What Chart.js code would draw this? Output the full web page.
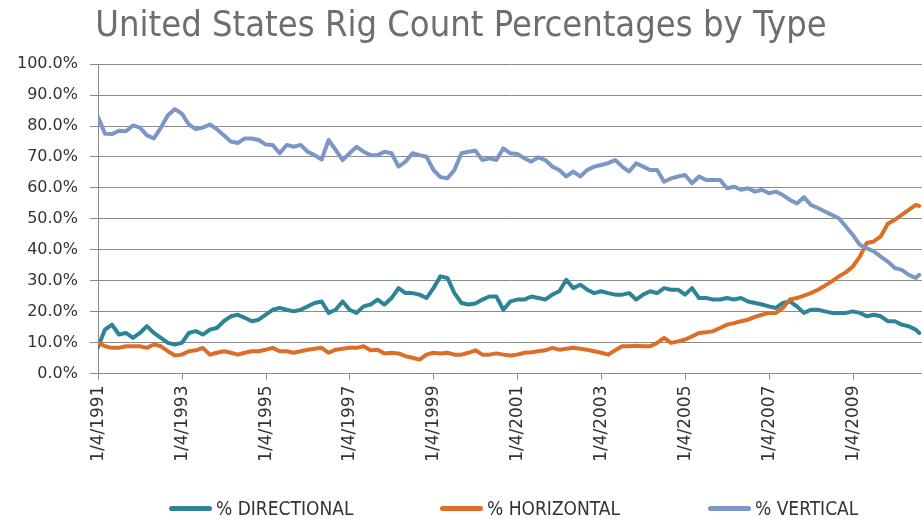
<!DOCTYPE html>
<html>
<head>
<meta charset="utf-8">
<title>United States Rig Count Percentages by Type</title>
<script src="https://cdn.jsdelivr.net/npm/chart.js@4.4.1/dist/chart.umd.min.js"></script>
<style>
  html, body { margin: 0; padding: 0; background: #fff; }
  #wrap { position: relative; width: 922px; height: 519px; }
  #legend { position: absolute; left: 0; top: 497px; width: 922px; height: 22px;
    font-family: 'Liberation Sans Narrow', 'DejaVu Sans Condensed', sans-serif; font-size: 19px; color: #333; }
  .item { position: absolute; top: 0; height: 22px; display: flex; align-items: center; white-space: nowrap; }
  .swatch { width: 43px; height: 5px; border-radius: 3px; margin-right: 4px; }
</style>
</head>
<body>
<div id="wrap">
  <canvas id="rigChart" width="922" height="519"></canvas>
  <div id="legend"></div>
</div>
<script>
// bi-monthly readings, Jan 1991 .. Jul 2010, plus the last week (Aug 2010)
const dates = [];
for (let y = 1991; y <= 2010; y++) {
  for (let m = 1; m <= 11; m += 2) {
    if (y < 2010 || m <= 7) dates.push(y + "-" + String(m).padStart(2, "0"));
  }
}
dates.push("2010-08");

const directional = [
  8.5, 14.2, 15.8, 12.6, 13.1, 11.5, 13.1, 15.3, 13.1, 11.5, 9.9, 9.4, 9.9, 13.1, 13.7, 12.6, 14.2, 14.7, 16.9, 18.5, 19.0, 18.0, 16.9, 17.4, 19.0,
  20.6, 21.2, 20.6, 20.1, 20.6, 21.7, 22.8, 23.3, 19.6, 20.6, 23.3, 20.6, 19.6, 21.7, 22.3, 23.9, 22.3, 24.4, 27.6, 26.0, 26.0, 25.5, 24.4, 27.6,
  31.4, 30.9, 26.0, 22.8, 22.3, 22.6, 23.9, 24.9, 24.9, 20.6, 23.3, 23.9, 23.9, 24.9, 24.4, 23.9, 25.5, 26.6, 30.3, 27.6, 28.7, 27.1, 26.0, 26.6,
  26.0, 25.5, 25.5, 26.0, 23.9, 25.5, 26.6, 26.0, 27.6, 27.1, 27.1, 25.5, 27.6, 24.4, 24.4, 23.9, 23.9, 24.4, 23.9, 24.4, 23.3, 22.8, 22.3, 21.7,
  21.2, 22.8, 23.3, 21.7, 19.6, 20.6, 20.6, 20.1, 19.6, 19.6, 19.6, 20.1, 19.6, 18.5, 19.0, 18.5, 16.9, 16.9, 15.8, 15.3, 14.2, 13.1
];
const horizontal = [
  9.9, 8.8, 8.3, 8.3, 8.8, 8.8, 8.8, 8.3, 9.4, 8.8, 7.2, 5.8, 6.1, 7.2, 7.5, 8.3, 6.1, 6.7, 7.2, 6.7, 6.1, 6.7, 7.2, 7.2, 7.7,
  8.3, 7.2, 7.2, 6.7, 7.2, 7.7, 8.0, 8.3, 6.7, 7.7, 8.0, 8.3, 8.3, 8.8, 7.5, 7.7, 6.5, 6.7, 6.5, 5.6, 5.1, 4.5, 6.1, 6.7,
  6.5, 6.7, 6.1, 6.1, 6.7, 7.5, 6.1, 6.1, 6.5, 6.1, 5.8, 6.1, 6.7, 6.9, 7.2, 7.5, 8.3, 7.7, 8.0, 8.3, 8.0, 7.7, 7.2, 6.7,
  6.1, 7.5, 8.8, 8.8, 9.0, 8.8, 8.8, 9.9, 11.5, 9.9, 10.4, 11.0, 12.0, 13.1, 13.3, 13.7, 14.7, 15.8, 16.3, 16.9, 17.4, 18.3, 19.0, 19.6,
  19.6, 21.2, 23.9, 24.4, 25.2, 26.0, 27.1, 28.4, 29.8, 31.4, 32.7, 34.6, 37.8, 42.2, 42.7, 44.3, 48.4, 49.7, 51.3, 52.9, 54.5, 54.2
];
const vertical = [
  83.0, 77.5, 77.4, 78.5, 78.3, 80.2, 79.5, 77.0, 76.0, 79.5, 83.5, 85.5, 84.0, 80.5, 79.0, 79.5, 80.5, 79.0, 77.0, 75.0, 74.5, 76.0, 76.0, 75.5, 74.0,
  73.9, 71.2, 73.9, 73.3, 73.9, 71.7, 70.6, 69.2, 75.5, 72.3, 69.0, 71.2, 73.3, 71.7, 70.6, 70.6, 71.7, 71.2, 66.9, 68.5, 71.2, 70.6, 70.1, 65.8,
  63.5, 63.1, 65.8, 71.2, 71.7, 72.0, 69.0, 69.6, 69.0, 72.8, 71.2, 71.0, 69.6, 68.5, 69.9, 69.0, 66.9, 65.8, 63.7, 65.3, 63.7, 65.8, 66.9, 67.4,
  68.0, 69.0, 66.9, 65.3, 68.0, 66.9, 65.8, 65.8, 62.0, 63.1, 63.7, 64.2, 61.5, 63.7, 62.6, 62.6, 62.6, 59.9, 60.4, 59.4, 59.9, 58.8, 59.4, 58.3,
  58.8, 57.7, 56.1, 55.0, 57.0, 54.5, 53.5, 52.4, 51.3, 50.2, 47.5, 44.8, 41.6, 40.5, 39.5, 37.8, 36.2, 34.1, 33.5, 31.9, 30.9, 31.9
];

const tickLabels = ["1/4/1991", "1/4/1993", "1/4/1995", "1/4/1997", "1/4/1999",
                    "1/4/2001", "1/4/2003", "1/4/2005", "1/4/2007", "1/4/2009"];

const seriesNames = ["% DIRECTIONAL", "% HORIZONTAL", "% VERTICAL"];
const seriesColors = ["#2e8497", "#dc6e28", "#7d96c8"];

// "1991-03" -> 1991.1667
function toYear(d) {
  const [y, m] = d.split("-").map(Number);
  return y + (m - 1) / 12;
}
// "1/4/1991" -> 1991.008
function tickYear(s) {
  const [m, d, y] = s.split("/").map(Number);
  return y + (m - 1) / 12 + (d - 1) / 365;
}

const xs = dates.map(toYear);
const allSeries = [directional, horizontal, vertical];

const datasets = allSeries.map((vals, i) => ({
  label: seriesNames[i],
  data: vals.map((v, j) => ({ x: xs[j], y: v })),
  borderColor: seriesColors[i],
  backgroundColor: seriesColors[i],
  borderWidth: 4,
  pointRadius: 0,
  tension: 0,
  borderJoinStyle: "round",
  borderCapStyle: "round",
  order: 3 - i
}));

const gridGray = "#8c8c8c";

new Chart(document.getElementById("rigChart").getContext("2d"), {
  type: "line",
  data: { datasets },
  options: {
    responsive: false,
    animation: false,
    devicePixelRatio: 1,
    layout: { padding: { left: 0, right: 0, top: 0, bottom: 0 } },
    plugins: {
      legend: { display: false },
      tooltip: { enabled: false },
      title: {
        display: true,
        text: "United States Rig Count Percentages by Type",
        color: "#6e6e6e",
        font: { family: "'Liberation Sans Narrow', 'DejaVu Sans Condensed', sans-serif", size: 36, weight: "normal" },
        padding: { top: 5, bottom: 16 }
      }
    },
    scales: {
      x: {
        type: "linear",
        min: 1991,
        max: 2010.65,
        afterBuildTicks: (scale) => {
          scale.ticks = tickLabels.map(t => ({ value: tickYear(t) }));
        },
        afterFit: (scale) => { scale.height = 145.5; },
        ticks: {
          autoSkip: false,
          minRotation: 90,
          maxRotation: 90,
          padding: 6,
          color: "#333",
          font: { family: "'DejaVu Sans', sans-serif", size: 17 },
          callback: (value, index) => tickLabels[index]
        },
        grid: { drawOnChartArea: false, drawTicks: true, tickLength: 6, color: gridGray },
        border: { display: true, color: gridGray }
      },
      y: {
        min: 0,
        max: 100,
        afterFit: (scale) => { scale.width = 98; },
        ticks: {
          stepSize: 10,
          padding: 12,
          color: "#333",
          font: { family: "'DejaVu Sans', sans-serif", size: 16 },
          callback: (v) => v.toFixed(1) + "%"
        },
        grid: { color: gridGray, tickLength: 8 },
        border: { display: true, color: gridGray }
      }
    }
  }
});

// legend below the axis labels, built from the same names and colours
const legendLeft = [169, 440, 708];
const legendEl = document.getElementById("legend");
seriesNames.forEach((name, i) => {
  const item = document.createElement("div");
  item.className = "item";
  item.style.left = legendLeft[i] + "px";
  const sw = document.createElement("span");
  sw.className = "swatch";
  sw.style.background = seriesColors[i];
  const tx = document.createElement("span");
  tx.textContent = name;
  item.appendChild(sw);
  item.appendChild(tx);
  legendEl.appendChild(item);
});
</script>
</body>
</html>
